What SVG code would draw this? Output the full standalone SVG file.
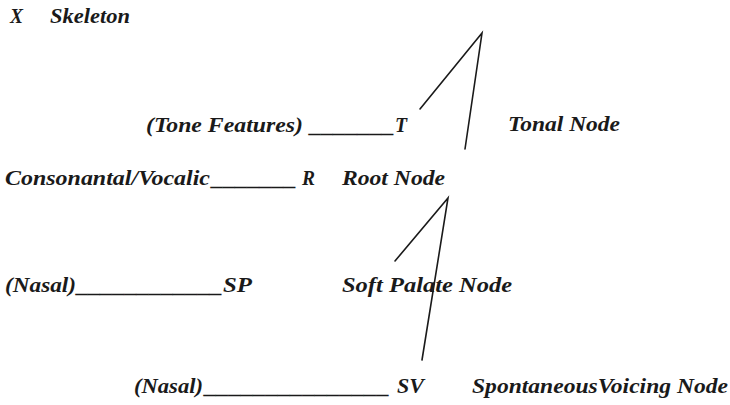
<svg xmlns="http://www.w3.org/2000/svg" width="730" height="405" viewBox="0 0 730 405">
<style>
text{font-family:"Liberation Serif","Times New Roman",serif;font-style:italic;font-weight:bold;font-size:21px;fill:#1a1a1a}
.ln{stroke:#1a1a1a;stroke-width:1.6;fill:none;stroke-linecap:round}
</style>
<rect width="730" height="405" fill="#fff"/>
<g id="skeleton">
<text x="10" y="23" textLength="13" lengthAdjust="spacingAndGlyphs">X</text>
<text x="50" y="23" textLength="80" lengthAdjust="spacingAndGlyphs">Skeleton</text>
</g>
<g id="tonal">
<text x="146" y="132" textLength="157" lengthAdjust="spacingAndGlyphs">(Tone Features)</text>
<text x="310" y="132" textLength="85" lengthAdjust="spacingAndGlyphs">_______</text>
<text x="395" y="132" textLength="12" lengthAdjust="spacingAndGlyphs">T</text>
<text x="508" y="131" textLength="112" lengthAdjust="spacingAndGlyphs">Tonal Node</text>
</g>
<g id="root">
<text x="5" y="185" textLength="205" lengthAdjust="spacingAndGlyphs">Consonantal/Vocalic</text>
<text x="212" y="185" textLength="85" lengthAdjust="spacingAndGlyphs">_______</text>
<text x="302" y="185" textLength="13" lengthAdjust="spacingAndGlyphs">R</text>
<text x="342" y="185" textLength="103" lengthAdjust="spacingAndGlyphs">Root Node</text>
</g>
<g id="softpalate">
<text x="5" y="292" textLength="71" lengthAdjust="spacingAndGlyphs">(Nasal)</text>
<text x="77" y="292" textLength="146" lengthAdjust="spacingAndGlyphs">____________</text>
<text x="223" y="292" textLength="29" lengthAdjust="spacingAndGlyphs">SP</text>
<text x="342" y="292" textLength="170" lengthAdjust="spacingAndGlyphs">Soft Palate Node</text>
</g>
<g id="voicing">
<text x="134" y="393" textLength="69" lengthAdjust="spacingAndGlyphs">(Nasal)</text>
<text x="205" y="393" textLength="185" lengthAdjust="spacingAndGlyphs">_______________</text>
<text x="397" y="393" textLength="27" lengthAdjust="spacingAndGlyphs">SV</text>
<text x="472" y="393" textLength="256" lengthAdjust="spacingAndGlyphs">SpontaneousVoicing Node</text>
</g>
<g id="connectors">
<path class="ln" d="M420 109 L482 33 L465 149"/>
<path class="ln" d="M395 261 L448 198 L422 360"/>
</g>
</svg>
